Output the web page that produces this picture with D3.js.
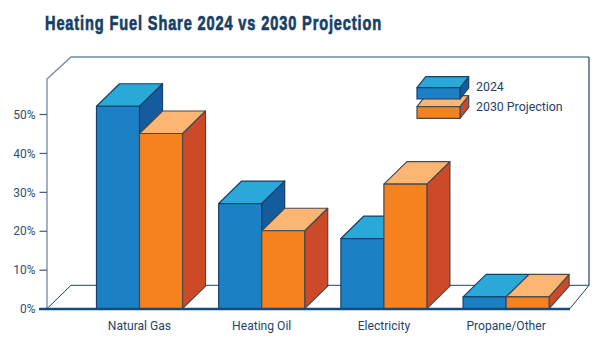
<!DOCTYPE html>
<html>
<head>
<meta charset="utf-8">
<script src="https://cdnjs.cloudflare.com/ajax/libs/d3/7.8.5/d3.min.js"></script>
<style>
    html, body { margin: 0; padding: 0; background: #fff; }
    text { font-family: Roboto, sans-serif; fill: #1f4468; }
    .title { font-family: "Liberation Sans", sans-serif; font-weight: 700; font-size: 20px; fill: #173f66; stroke: #173f66; stroke-width: 0.7px; letter-spacing: 1.2px; }
    .tickLabel { font-family: Roboto, sans-serif; font-size: 13px; fill: #2d5070; }
    .catLabel { font-size: 13px; }
    .legendLabel { font-size: 13px; }
</style>
</head>
<body>
<div id="chart"></div>
<script>
    const categories = ["Natural Gas", "Heating Oil", "Electricity", "Propane/Other"];
    const seriesNames = ["2024", "2030 Projection"];
    const values2024 = [52, 27, 18, 3];
    const values2030 = [45, 20, 32, 3];
    const tickValues = [0, 10, 20, 30, 40, 50];

    const seriesColors = [
        {front: "#1b80c4", top: "#2aa9d8", side: "#145c9e", stroke: "#17406b"},
        {front: "#f5821f", top: "#fdb672", side: "#cc4a28", stroke: "#47494d"}
    ];

    /*
    DEFINE DIMENSIONS AND GENERATE SVG
    */
    const width = 600;
    const height = 350;
    const depth = {x: 23, y: 22.5};

    const svg = d3.select("#chart")
        .append("svg")
        .attr("width", width)
        .attr("height", height)
        .style("display", "block");

    /*
    DEFINE SCALES
    */
    const xScale = d3.scaleBand()
        .domain(categories)
        .range([78.4, 567.2])
        .paddingInner(0.296)
        .paddingOuter(0.148);

    const barScale = d3.scaleBand()
        .domain(seriesNames)
        .range([0, xScale.bandwidth()]);

    const yScale = d3.scaleLinear()
        .domain([0, 59])
        .range([308.6, 79]);

    const y0 = yScale(0);
    const wallLeft = 47;
    const wallRight = 589;
    const floorBack = y0 - 23.3;
    const wallTop = yScale(59) - 22;

    /* squeeze a text to a share of its natural width, the fonts here are wider than the original */
    function condense(selection, factor) {
        selection.each(function() {
            d3.select(this)
                .attr("lengthAdjust", "spacingAndGlyphs")
                .attr("textLength", this.getComputedTextLength() * factor);
        });
    }

    /*
    DRAW THE FRAME
    */
    const frame = svg.append("g").attr("fill", "none");

    frame.append("path")
        .attr("d", `M${wallLeft},${y0} V${yScale(59)} L${wallLeft + 24},${wallTop} H${wallRight}`)
        .attr("stroke", "#6d8aa6")
        .attr("stroke-width", 1.3);

    frame.append("path")
        .attr("d", `M${wallRight},${wallTop} V${floorBack}`)
        .attr("stroke", "#1f4468")
        .attr("stroke-width", 1.2);

    frame.append("path")
        .attr("d", `M${wallLeft},${y0} L${wallLeft + 24},${floorBack} H${wallRight} L570,${y0}`)
        .attr("stroke", "#1f4468")
        .attr("stroke-width", 1);

    /*
    DRAW AXIS
    */
    const yAxis = svg.append("g")
        .attr("transform", `translate(${wallLeft},0)`)
        .call(d3.axisLeft().scale(yScale)
            .tickValues(tickValues)
            .tickSize(7.5)
            .tickPadding(4)
            .tickFormat(function(d) { return d + "%"; }));

    yAxis.select(".domain").remove();
    yAxis.selectAll("line").attr("stroke", "#3c5c7c").attr("stroke-width", 1.2);
    yAxis.selectAll("text").attr("class", "tickLabel").attr("fill", null).call(condense, 0.92);

    /*
    DRAW 3D BARS
    */
    function drawBox(parent, x, w, yTop, yBottom, c, dx, dy, trim) {
        const g = parent.append("g")
            .attr("stroke", c.stroke)
            .attr("stroke-width", 1.2)
            .attr("stroke-linejoin", "round");

        const backRight = x + w + dx - (trim || 0);

        g.append("path")
            .attr("d", `M${x + w},${yTop} L${backRight},${yTop - dy} V${yBottom - dy} L${x + w},${yBottom} Z`)
            .attr("fill", c.side);

        g.append("path")
            .attr("d", `M${x},${yTop} L${x + dx},${yTop - dy} H${backRight} L${x + w},${yTop} Z`)
            .attr("fill", c.top);

        g.append("rect")
            .attr("x", x)
            .attr("y", yTop)
            .attr("width", w)
            .attr("height", yBottom - yTop)
            .attr("fill", c.front);
    }

    const barsLayer = svg.append("g");

    categories.forEach(function(cat, i) {
        [values2024[i], values2030[i]].forEach(function(v, s) {
            // the last orange box is a little shallower on its right side in the original
            const trim = (i === 3 && s === 1) ? 3 : 0;
            drawBox(barsLayer, xScale(cat) + barScale(seriesNames[s]), barScale.bandwidth(),
                yScale(v), y0, seriesColors[s], depth.x, depth.y, trim);
        });
    });

    /* thick baseline in front of the bars */
    svg.append("line")
        .attr("x1", 39)
        .attr("x2", 570)
        .attr("y1", y0 + 0.4)
        .attr("y2", y0 + 0.4)
        .attr("stroke", "#164a7c")
        .attr("stroke-width", 2.6);

    /*
    CATEGORY LABELS
    */
    svg.selectAll(".catLabel")
        .data(categories)
        .enter()
        .append("text")
        .attr("class", "catLabel")
        .attr("x", function(d) { return xScale(d) + xScale.bandwidth() / 2; })
        .attr("y", 330)
        .attr("text-anchor", "middle")
        .text(function(d) { return d; })
        .call(condense, 0.93);

    /*
    LEGEND
    */
    const legendY = [[87.7, 99], [106.7, 118.3]];

    [1, 0].forEach(function(s) {
        drawBox(svg, 417, 43, legendY[s][0], legendY[s][1], seriesColors[s], 8.7, 11);
    });

    svg.selectAll(".legendLabel")
        .data(seriesNames)
        .enter()
        .append("text")
        .attr("class", "legendLabel")
        .attr("x", 476)
        .attr("y", function(d, i) { return i === 0 ? 90.5 : 110.5; })
        .text(function(d) { return d; })
        .call(condense, 0.95);

    /*
    TITLE
    */
    svg.append("text")
        .attr("class", "title")
        .attr("x", 45)
        .attr("y", 29.5)
        .attr("textLength", 337)
        .attr("lengthAdjust", "spacingAndGlyphs")
        .text("Heating Fuel Share 2024 vs 2030 Projection");
</script>
</body>
</html>
